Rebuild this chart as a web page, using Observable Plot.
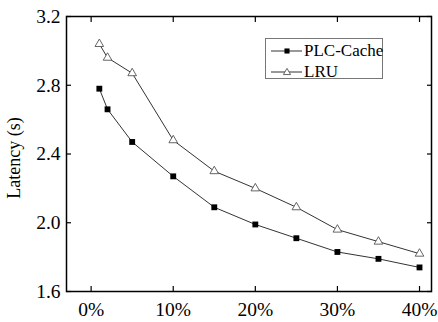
<!DOCTYPE html>
<html><head><meta charset="utf-8">
<script src="https://cdn.jsdelivr.net/npm/d3@7"></script>
<script src="https://cdn.jsdelivr.net/npm/@observablehq/plot@0.6"></script>
<style>
body{margin:0;background:#fff}
#wrap{position:relative;width:438px;height:322px}
#wrap svg text{font-family:"Liberation Serif","Times New Roman",Times,"DejaVu Serif",serif}
.legend{position:absolute;left:265px;top:38px;width:118px;height:41px;box-sizing:border-box;border:1px solid #777;font-family:"Liberation Serif","Times New Roman",Times,"DejaVu Serif",serif;font-size:17px;background:#fff;color:#000;white-space:nowrap}
.row{position:absolute;left:0;height:20px;line-height:20px;display:flex;align-items:center;white-space:nowrap}
.row svg{display:block;flex:none}
.row span{margin-left:1px}
</style></head>
<body><div id="wrap"></div>
<script>
const ratios = [1, 2, 5, 10, 15, 20, 25, 30, 35, 40];
const plcCache = [2.78, 2.66, 2.47, 2.27, 2.09, 1.99, 1.91, 1.83, 1.79, 1.74];
const lru = [3.04, 2.96, 2.87, 2.48, 2.30, 2.20, 2.09, 1.96, 1.89, 1.82];
const xTicks = [0, 10, 20, 30, 40];
const yTicks = [1.6, 2.0, 2.4, 2.8, 3.2];
const seriesNames = ["PLC-Cache", "LRU"];
const yLabel = "Latency (s)";

const rows = [];
ratios.forEach((r, i) => {
  rows.push({x: r, y: plcCache[i], s: seriesNames[0]});
  rows.push({x: r, y: lru[i], s: seriesNames[1]});
});
const plc = rows.filter(d => d.s === seriesNames[0]);
const lr = rows.filter(d => d.s === seriesNames[1]);

const font = '"Liberation Serif", "Times New Roman", Times, "DejaVu Serif", serif';
const fmtX = d => d + "%";
const fmtY = d => d.toFixed(1);

const chart = Plot.plot({
  width: 438, height: 322,
  marginLeft: 66, marginTop: 16, marginRight: 7, marginBottom: 31,
  style: {fontFamily: font, fontSize: "18px", color: "#000", background: "#fff"},
  x: {domain: [-3.0, 41.46]},
  y: {domain: [1.6, 3.2]},
  marks: [
    Plot.frame({stroke: "#000", strokeWidth: 1.5}),
    Plot.axisX({ticks: xTicks, anchor: "bottom", tickSize: -5, fill: "none", stroke: "#000", strokeWidth: 1.2, label: null}),
    Plot.axisX({ticks: xTicks, anchor: "top", tickSize: -5, fill: "none", stroke: "#000", strokeWidth: 1.2, label: null}),
    Plot.axisY({ticks: yTicks, anchor: "left", tickSize: -5, fill: "none", stroke: "#000", strokeWidth: 1.2, label: null}),
    Plot.axisY({ticks: yTicks, anchor: "right", tickSize: -5, fill: "none", stroke: "#000", strokeWidth: 1.2, label: null}),
    Plot.axisX({ticks: xTicks, anchor: "bottom", tickSize: 0, tickPadding: 10.5, tickFormat: fmtX, fill: "#000", fontSize: 19.5, label: null}),
    Plot.axisY({ticks: yTicks, anchor: "left", tickSize: 0, tickPadding: 6, tickFormat: fmtY, fill: "#000", fontSize: 19.5, label: null}),
    Plot.text([yLabel], {text: d => d, frameAnchor: "left", rotate: -90, dx: -52, dy: 4, fontSize: 18, fill: "#000", textAnchor: "middle", lineAnchor: "middle"}),
    Plot.line(plc, {x: "x", y: "y", stroke: "#333", strokeWidth: 1}),
    Plot.line(lr, {x: "x", y: "y", stroke: "#333", strokeWidth: 1}),
    Plot.dot(plc, {x: "x", y: "y", symbol: "square", r: 3.3, fill: "#000", stroke: "none"}),
    Plot.dot(lr, {x: "x", y: "y", symbol: "triangle", r: 3.2, fill: "#fff", stroke: "#555", strokeWidth: 0.9})
  ]
});
const wrap = document.getElementById("wrap");
wrap.appendChild(chart);

const legend = document.createElement("div");
legend.className = "legend";
const sq = d3.symbol(d3.symbolSquare, 26)();
const tri = d3.symbol(d3.symbolTriangle, 22)();
[[seriesNames[0], `<path d="${sq}" transform="translate(21,10)" fill="#000"/>`, 2],
 [seriesNames[1], `<path d="${tri}" transform="translate(21,10.5)" fill="#fff" stroke="#555" stroke-width="0.9"/>`, 23]]
.forEach(([name, mk, top]) => {
  const row = document.createElement("div");
  row.className = "row";
  row.style.top = top + "px";
  row.innerHTML = `<svg width="37" height="20"><line x1="5" x2="36" y1="10" y2="10" stroke="#333" stroke-width="1"/>${mk}</svg><span>${name}</span>`;
  legend.appendChild(row);
});
wrap.appendChild(legend);
</script>
</body></html>
